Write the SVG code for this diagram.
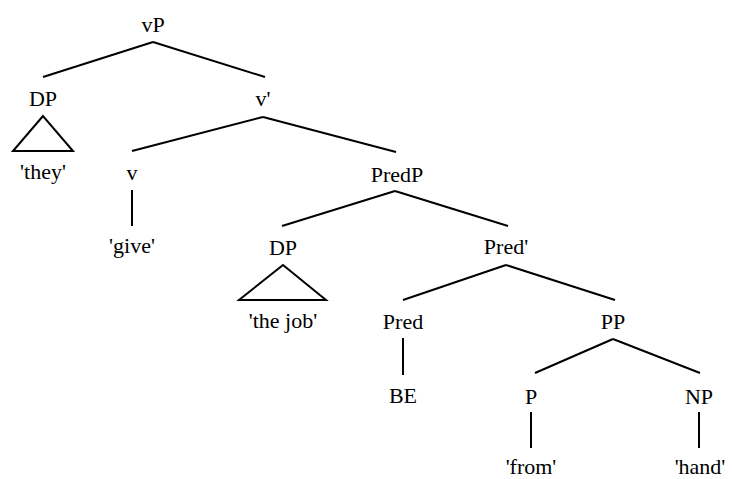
<svg xmlns="http://www.w3.org/2000/svg" width="733" height="479" viewBox="0 0 733 479">
<style>
.lbl{font-family:"Liberation Serif","Times New Roman",serif;font-size:22px;fill:#000;text-anchor:middle}
.e line,.e polygon{stroke:#000;stroke-width:2;fill:none}
</style>
<rect width="733" height="479" fill="#fff"/>
<g class="e" id="connectors">
<line x1="153" y1="42" x2="43" y2="77"/>
<line x1="153" y1="42" x2="265" y2="77"/>
<polygon points="43,116 13,151 73,151"/>
<line x1="263" y1="117" x2="132" y2="151"/>
<line x1="263" y1="117" x2="396" y2="152"/>
<line x1="132" y1="190" x2="132" y2="226"/>
<line x1="395" y1="191" x2="282" y2="226"/>
<line x1="395" y1="191" x2="508" y2="226"/>
<polygon points="283,265 239,300 326,300"/>
<line x1="506" y1="265" x2="403" y2="300"/>
<line x1="506" y1="265" x2="615" y2="300"/>
<line x1="403" y1="338" x2="403" y2="375"/>
<line x1="613" y1="339" x2="535" y2="373"/>
<line x1="613" y1="339" x2="700" y2="373"/>
<line x1="531" y1="412" x2="531" y2="448"/>
<line x1="699" y1="412" x2="699" y2="448"/>
</g>
<g id="vP"><text class="lbl" x="153" y="32">vP</text></g>
<g id="DP1"><text class="lbl" x="43" y="106">DP</text></g>
<g id="they"><text class="lbl" x="43" y="179">'they'</text></g>
<g id="vbar"><text class="lbl" x="263" y="106">v'</text></g>
<g id="v"><text class="lbl" x="132" y="180">v</text></g>
<g id="give"><text class="lbl" x="132" y="253">'give'</text></g>
<g id="PredP"><text class="lbl" x="397" y="182">PredP</text></g>
<g id="DP2"><text class="lbl" x="283" y="255">DP</text></g>
<g id="thejob"><text class="lbl" x="283" y="328">'the job'</text></g>
<g id="Predbar"><text class="lbl" x="506" y="254">Pred'</text></g>
<g id="Pred"><text class="lbl" x="403" y="329">Pred</text></g>
<g id="BE"><text class="lbl" x="403" y="403">BE</text></g>
<g id="PP"><text class="lbl" x="613" y="329">PP</text></g>
<g id="P"><text class="lbl" x="531" y="404">P</text></g>
<g id="NP"><text class="lbl" x="699" y="404">NP</text></g>
<g id="from"><text class="lbl" x="531" y="474">'from'</text></g>
<g id="hand"><text class="lbl" x="700" y="474">'hand'</text></g>
</svg>
